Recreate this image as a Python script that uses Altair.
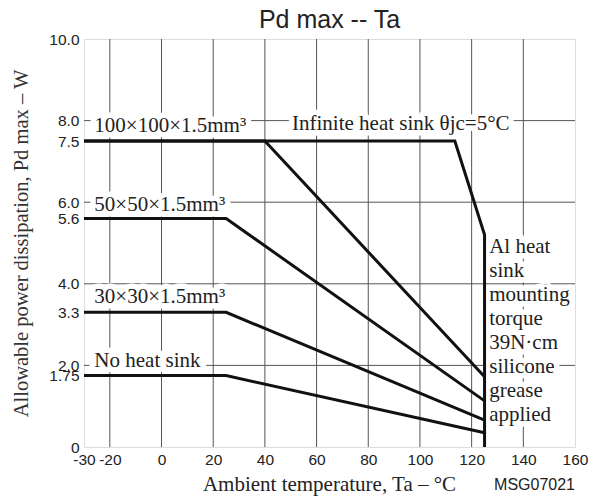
import altair as alt
import pandas as pd

# ---- data ----
x_domain = [-30, 160]
y_domain = [0, 10]
x_ticks = [-30, -20, 0, 20, 40, 60, 80, 100, 120, 140, 160]
x_tick_labels = ["-30", "-20", "0", "20", "40", "60", "80", "100", "120", "140", "160"]
y_ticks = [0, 1.75, 2, 3.3, 4, 5.6, 6, 7.5, 8, 10]
y_tick_labels = ["0", "1.75", "2.0", "3.3", "4.0", "5.6", "6.0", "7.5", "8.0", "10.0"]
x_grid = [-20, 0, 20, 40, 60, 80, 100, 120, 140]
y_grid = [2, 4, 6, 8]

inf_x = [-30, 113.5, 125, 125]
inf_y = [7.5, 7.5, 5.2, 0]
s100_x = [-30, 40, 125]
s100_y = [7.5, 7.5, 1.72]
s50_x = [-30, 25, 125]
s50_y = [5.6, 5.6, 1.13]
s30_x = [-30, 25, 125]
s30_y = [3.3, 3.3, 0.66]
none_x = [-30, 25, 125]
none_y = [1.75, 1.75, 0.35]

label_texts = ["100×100×1.5mm³", "Infinite heat sink θjc=5°C", "50×50×1.5mm³",
               "30×30×1.5mm³", "No heat sink",
               "Al heat\nsink\nmounting\ntorque\n39N·cm\nsilicone\ngrease\napplied"]
label_x = [-26, 50.5, -26, -26, -26, 126.8]
label_y = [7.72, 7.77, 5.78, 3.54, 1.96, 4.75]

title_text = ["Pd max -- Ta"]
title_x = [65]
title_y = [10.27]

code_text = ["MSG07021"]
code_x = [160]
code_y = [-1.06]

# ---- tables ----
rows = []
for name, xs, ys in [("inf", inf_x, inf_y), ("100", s100_x, s100_y), ("50", s50_x, s50_y),
                     ("30", s30_x, s30_y), ("none", none_x, none_y)]:
    for i, (a, b) in enumerate(zip(xs, ys)):
        rows.append({"series": name, "order": i, "x": a, "y": b})
lines_df = pd.DataFrame(rows)
labels_df = pd.DataFrame({"text": label_texts, "x": label_x, "y": label_y})
code_df = pd.DataFrame({"text": code_text, "x": code_x, "y": code_y})
title_df = pd.DataFrame({"text": title_text, "x": title_x, "y": title_y})
xg_df = pd.DataFrame({"x": x_grid})
yg_df = pd.DataFrame({"y": y_grid})


def make_expr(vals, labs):
    return " : ".join(f"datum.value == {v} ? '{t}'" for v, t in zip(vals, labs)) + " : ''"


SANS = "Liberation Sans"
SERIF = "Liberation Serif"

X = alt.X("x:Q", scale=alt.Scale(domain=x_domain, nice=False, zero=False),
          axis=alt.Axis(values=x_ticks, labelExpr=make_expr(x_ticks, x_tick_labels),
                        grid=False, ticks=False, domain=False,
                        labelFont=SANS, labelFontSize=15.5, labelColor="#222",
                        labelPadding=5, labelFlush=False, labelOverlap=False,
                        title="Ambient temperature, Ta – °C", titleFont=SERIF,
                        titleFontSize=21, titleFontWeight="normal", titleColor="#222",
                        titleX=245, titleY=43, titleBaseline="alphabetic"))
Y = alt.Y("y:Q", scale=alt.Scale(domain=y_domain, nice=False, zero=True),
          axis=alt.Axis(values=y_ticks, labelExpr=make_expr(y_ticks, y_tick_labels),
                        grid=False, ticks=False,
                        domain=False, labelFont=SANS, labelFontSize=15.5, labelColor="#222",
                        labelPadding=5, labelFlush=False, labelOverlap=False,
                        title="Allowable power dissipation, Pd max – W", titleFont=SERIF,
                        titleFontSize=20.5, titleFontWeight="normal", titleColor="#333",
                        titleX=-63, titleY=204, titleBaseline="middle", titleAngle=-90))

xgrid = alt.Chart(xg_df).mark_rule(color="#555", strokeWidth=1).encode(x=X)
ygrid = alt.Chart(yg_df).mark_rule(color="#555", strokeWidth=1).encode(y=Y)

halo = alt.Chart(labels_df).mark_text(
    font=SERIF, fontSize=21, align="left", baseline="alphabetic", lineBreak="\n",
    lineHeight=24, color="white", stroke="white", strokeWidth=11, strokeJoin="round"
).encode(x=X, y=Y, text="text:N")

lines = alt.Chart(lines_df).mark_line(
    color="#111", strokeWidth=3, strokeJoin="miter"
).encode(x=X, y=Y, detail="series:N", order="order:Q")

texts = alt.Chart(labels_df).mark_text(
    font=SERIF, fontSize=21, align="left", baseline="alphabetic", lineBreak="\n",
    lineHeight=24, color="#222"
).encode(x=X, y=Y, text="text:N")

code = alt.Chart(code_df).mark_text(
    font=SANS, fontSize=16, align="right", baseline="alphabetic", color="#222"
).encode(x=X, y=Y, text="text:N")

title = alt.Chart(title_df).mark_text(
    font=SANS, fontSize=25, align="center", baseline="alphabetic", color="#222"
).encode(x=X, y=Y, text="text:N")

chart = alt.layer(xgrid, ygrid, halo, lines, texts, code, title).properties(
    width=491, height=408,
    autosize=alt.AutoSizeParams(type="none"),
    padding={"left": 76, "top": 31, "right": 15, "bottom": 50},
).configure_view(stroke="#333", strokeWidth=2).configure(background="white")

chart.save("out.html", embed_options={"renderer": "svg", "actions": False})
